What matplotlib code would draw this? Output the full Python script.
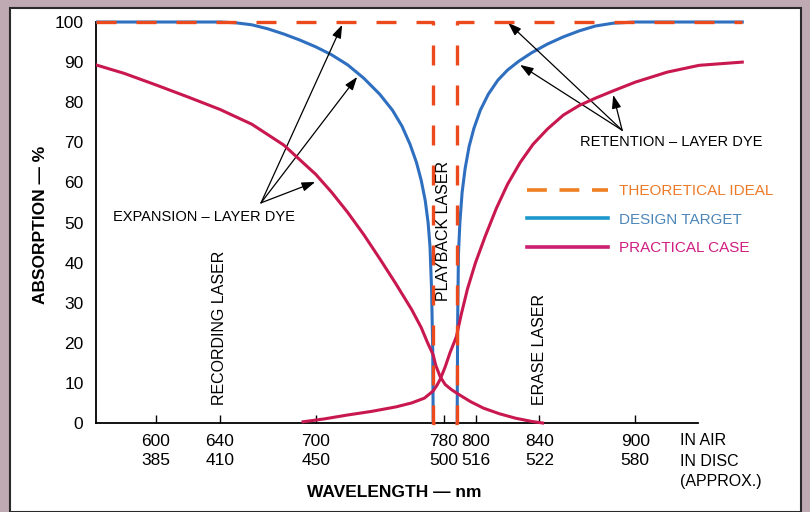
import matplotlib
matplotlib.use("Agg")
import matplotlib.pyplot as plt
from matplotlib.lines import Line2D
from matplotlib.patches import Rectangle

plt.rcParams['font.family'] = ['Liberation Sans', 'DejaVu Sans']

# tick labels: wavelength in air / in disc
air_ticks = [600, 640, 700, 780, 800, 840, 900]
disc_ticks = [385, 410, 450, 500, 516, 522, 580]
y_ticks = list(range(0, 101, 10))

# theoretical ideal (notch)
ideal_wl = [562.4, 773.5, 773.5, 788.5, 788.5, 967]
ideal_abs = [100, 100, 0, 0, 100, 100]

# design target, expansion-layer dye
exp_target_wl = [562.4, 600, 640, 650, 660, 670, 680, 690, 700, 710, 720, 730, 740,
                 748, 754, 759, 763, 766, 768.5, 770.3, 771.5, 772.5, 773.2, 773.5]
exp_target_abs = [100, 100, 100, 99.8, 99.3, 98.3, 97, 95.5, 93.8, 91.8, 89.3, 86, 82,
                  78, 74, 69.5, 65, 60.5, 55.5, 50, 44, 33, 18, 0]

# design target, retention-layer dye
ret_target_wl = [788.5, 788.8, 789.3, 790.2, 791.6, 793.5, 796, 799, 803, 808, 814,
                 820, 827, 835, 845, 855, 865, 875, 886, 900, 967]
ret_target_abs = [0, 25, 42, 50, 57.5, 63.5, 69, 73.5, 78, 82, 85.5,
                  88, 90.2, 92.3, 94.5, 96.3, 97.8, 99, 99.7, 100, 100]

# practical case, expansion-layer dye
exp_practical_wl = [562.4, 580, 600, 620, 640, 660, 680, 700, 710, 720, 730, 740, 750,
                    760, 766, 770, 773.5, 775, 777.8, 781, 785, 790, 797, 805, 815,
                    825, 835, 842]
exp_practical_abs = [89.3, 87.2, 84.3, 81.3, 78.2, 74.5, 69.3, 62, 57.5, 52.5, 47, 41,
                     34.8, 28.3, 23.8, 20, 17, 14.5, 11.6, 9.6, 8.3, 7, 5.3, 3.7, 2.3,
                     1.2, 0.4, 0]

# practical case, retention-layer dye
ret_practical_wl = [692, 705, 720, 735, 750, 760, 768, 773.5, 776, 778, 781, 784, 788,
                    791, 795, 800, 806, 813, 820, 828, 836, 845, 855, 865, 875, 886,
                    900, 920, 940, 967]
ret_practical_abs = [0.3, 1.0, 2.0, 2.9, 4.0, 5.0, 6.2, 8, 9.5, 11, 14, 17.5, 21.5,
                     27, 33.5, 40, 46.5, 53.5, 59.5, 65, 69.5, 73.3, 76.8, 79.2, 81,
                     82.8, 85, 87.5, 89.2, 90]

ideal_color = '#ec4a1c'
target_color = '#2f6fc0'
practical_color = '#c8184f'

fig = plt.figure(figsize=(8.1, 5.12), dpi=100)
fig.patch.set_facecolor('#bfa9b3')
fig.patches.append(Rectangle((10/810, 0), 791/810, 504/512, transform=fig.transFigure,
                             facecolor='white', edgecolor='#2a2a2a', lw=1.5, zorder=-5))

ax = fig.add_axes([96/810, 87/512, 699/810, 407/512])
ax.set_facecolor('none')

ax.plot(exp_target_wl, exp_target_abs, color=target_color, lw=2.2, zorder=3)
ax.plot(ret_target_wl, ret_target_abs, color=target_color, lw=2.2, zorder=3)
ax.plot(exp_practical_wl, exp_practical_abs, color=practical_color, lw=2.2, zorder=4)
ax.plot(ret_practical_wl, ret_practical_abs, color=practical_color, lw=2.2, zorder=4)
ax.plot(ideal_wl, ideal_abs, color=ideal_color, lw=2.4, dashes=(6, 6), zorder=5,
        clip_on=False)

ax.set_xlim(562.4, 1000)
ax.set_ylim(-0.5, 101)

for s in ['top', 'right']:
    ax.spines[s].set_visible(False)
ax.spines['bottom'].set_position(('data', 0))
ax.spines['bottom'].set_bounds(562.4, 939)
ax.spines['left'].set_bounds(0, 100)
ax.spines['left'].set_linewidth(1.3)
ax.spines['bottom'].set_linewidth(1.3)

ax.set_xticks(air_ticks)
ax.set_xticklabels([f"{a}\n{d}" for a, d in zip(air_ticks, disc_ticks)],
                   fontsize=12.5, linespacing=1.3)
ax.tick_params(axis='x', direction='in', length=6, width=1, pad=8)
ax.set_yticks(y_ticks)
ax.set_yticklabels([str(v) for v in y_ticks], fontsize=12.5)
ax.tick_params(axis='y', length=0, pad=9)

ax.text(928, -2.6, "IN AIR\nIN DISC\n(APPROX.)", fontsize=11.5, ha='left', va='top',
        linespacing=1.45, clip_on=False)
ax.text(749, -17.3, "WAVELENGTH \u2014 nm", fontsize=12.5, fontweight='bold',
        ha='center', va='center', clip_on=False)
ax.text(527.5, 49.5, "ABSORPTION \u2014 %", fontsize=12.5, fontweight='bold',
        rotation=90, ha='center', va='center', clip_on=False)

# laser markers
ax.text(640, 4.5, "RECORDING LASER", rotation=90, fontsize=11.5, ha='center', va='bottom')
ax.text(780, 30.5, "PLAYBACK LASER", rotation=90, fontsize=11.5, ha='center', va='bottom')
ax.text(840, 4.5, "ERASE LASER", rotation=90, fontsize=11.5, ha='center', va='bottom')

# dye annotations
arrow = dict(arrowstyle='-|>,head_length=0.8,head_width=0.28', color='black', lw=0.9,
             shrinkA=0, shrinkB=0)
ax.text(573, 51.4, "EXPANSION \u2013 LAYER DYE", fontsize=10.5, ha='left', va='center')
for tx, ty in [(716.5, 99.3), (725.9, 86.3), (699.6, 60.1)]:
    ax.annotate("", xy=(tx, ty), xytext=(665.7, 54.9), arrowprops=arrow)
ax.text(865.5, 70, "RETENTION \u2013 LAYER DYE", fontsize=10.5, ha='left', va='center')
for tx, ty in [(820.4, 99.8), (827.9, 89.3), (886.2, 81.8)]:
    ax.annotate("", xy=(tx, ty), xytext=(891.8, 73), arrowprops=arrow)

handles = [Line2D([], [], color='#ee7f22', lw=2.6, dashes=(5.5, 3.5)),
           Line2D([], [], color='#1c98cc', lw=2.6),
           Line2D([], [], color='#cc1f72', lw=2.6)]
labels = ["THEORETICAL IDEAL", "DESIGN TARGET", "PRACTICAL CASE"]
leg = ax.legend(handles, labels, loc='upper left', bbox_to_anchor=(527/810, 1 - 184/512),
                bbox_transform=fig.transFigure, frameon=False, fontsize=11,
                handlelength=5.3, handletextpad=0.75, labelspacing=0.95, borderpad=0,
                borderaxespad=0,
                labelcolor=['#ee7a28', '#4c86b8', '#d01e82'])

fig.savefig("out.png", dpi=100, facecolor=fig.get_facecolor())
